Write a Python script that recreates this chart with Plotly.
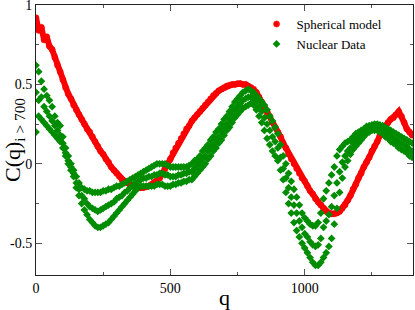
import plotly.graph_objects as go

q = list(range(0, 1401, 10))

spherical = [
    0.92, 0.84, 0.86, 0.78, 0.80, 0.74, 0.72, 0.67, 0.62, 0.58,
    0.53, 0.48, 0.44, 0.41, 0.37, 0.34, 0.31, 0.28, 0.25, 0.22,
    0.20, 0.17, 0.14, 0.11, 0.08, 0.06, 0.03, 0.01, -0.02, -0.04,
    -0.06, -0.08, -0.10, -0.11, -0.12, -0.13, -0.14, -0.145, -0.15, -0.15,
    -0.15, -0.145, -0.14, -0.13, -0.12, -0.11, -0.09, -0.06, -0.03, 0.00,
    0.03, 0.07, 0.10, 0.13, 0.16, 0.19, 0.22, 0.24, 0.27, 0.29,
    0.31, 0.33, 0.35, 0.37, 0.39, 0.41, 0.43, 0.445, 0.46, 0.47,
    0.48, 0.49, 0.495, 0.50, 0.50, 0.505, 0.505, 0.50, 0.50, 0.49,
    0.48, 0.47, 0.45, 0.42, 0.39, 0.36, 0.33, 0.30, 0.26, 0.23,
    0.20, 0.17, 0.13, 0.10, 0.06, 0.03, 0.00, -0.03, -0.06, -0.09,
    -0.11, -0.14, -0.17, -0.19, -0.22, -0.24, -0.26, -0.28, -0.30, -0.31,
    -0.315, -0.315, -0.31, -0.30, -0.28, -0.26, -0.23, -0.20, -0.16, -0.13,
    -0.09, -0.06, -0.02, 0.01, 0.04, 0.08, 0.11, 0.14, 0.18, 0.21,
    0.24, 0.26, 0.28, 0.29, 0.31, 0.33, 0.30, 0.26, 0.22, 0.20,
    0.18,
]

nuclear_hi = [
    0.62, 0.58, 0.52, 0.47, 0.43, 0.40, 0.36, 0.30, 0.26, 0.24,
    0.17, 0.10, 0.05, 0.00, -0.04, -0.08, -0.12, -0.15, -0.16, -0.17,
    -0.17, -0.18, -0.18, -0.18, -0.18, -0.17, -0.17, -0.16, -0.16, -0.15,
    -0.14, -0.14, -0.13, -0.12, -0.11, -0.10, -0.09, -0.08, -0.07, -0.06,
    -0.05, -0.04, -0.03, -0.02, -0.01, 0.00, 0.00, 0.00, 0.00, -0.01,
    -0.02, -0.02, -0.02, -0.02, -0.02, -0.02, -0.02, -0.01, 0.00, 0.02,
    0.03, 0.05, 0.08, 0.10, 0.12, 0.15, 0.17, 0.20, 0.22, 0.25,
    0.28, 0.30, 0.33, 0.36, 0.39, 0.41, 0.43, 0.45, 0.46, 0.47,
    0.46, 0.45, 0.43, 0.41, 0.39, 0.37, 0.34, 0.30, 0.27, 0.23,
    0.19, 0.12, 0.05, 0.00, -0.06, -0.11, -0.16, -0.21, -0.26, -0.31,
    -0.34, -0.36, -0.38, -0.39, -0.39, -0.37, -0.31, -0.22, -0.17, -0.12,
    -0.07, -0.02, 0.05, 0.09, 0.11, 0.13, 0.14, 0.15, 0.17, 0.19,
    0.20, 0.21, 0.22, 0.235, 0.24, 0.245, 0.25, 0.25, 0.245, 0.24,
    0.23, 0.22, 0.21, 0.20, 0.19, 0.18, 0.17, 0.16, 0.15, 0.14,
    0.13,
]

nuclear_mid = [
    0.45, 0.40, 0.42, 0.36, 0.33, 0.30, 0.27, 0.24, 0.21, 0.18,
    0.13, 0.07, 0.02, -0.02, -0.06, -0.12, -0.16, -0.20, -0.22, -0.25,
    -0.27, -0.28, -0.29, -0.30, -0.29, -0.28, -0.27, -0.26, -0.25, -0.24,
    -0.22, -0.21, -0.20, -0.18, -0.17, -0.15, -0.14, -0.12, -0.11, -0.10,
    -0.09, -0.09, -0.08, -0.08, -0.07, -0.07, -0.06, -0.06, -0.07, -0.07,
    -0.08, -0.08, -0.08, -0.07, -0.07, -0.06, -0.06, -0.05, -0.05, -0.03,
    -0.01, 0.01, 0.03, 0.05, 0.08, 0.10, 0.12, 0.15, 0.17, 0.20,
    0.23, 0.25, 0.28, 0.31, 0.34, 0.36, 0.38, 0.40, 0.41, 0.42,
    0.42, 0.41, 0.39, 0.36, 0.33, 0.29, 0.25, 0.21, 0.17, 0.14,
    0.10, 0.04, -0.03, -0.09, -0.15, -0.21, -0.26, -0.31, -0.36, -0.40,
    -0.44, -0.46, -0.49, -0.51, -0.52, -0.51, -0.47, -0.40, -0.36, -0.32,
    -0.27, -0.20, -0.12, -0.05, 0.01, 0.05, 0.08, 0.10, 0.13, 0.15,
    0.17, 0.18, 0.20, 0.21, 0.22, 0.23, 0.23, 0.23, 0.22, 0.21,
    0.20, 0.19, 0.18, 0.16, 0.15, 0.14, 0.13, 0.12, 0.11, 0.09,
    0.08,
]

nuclear_lo = [
    0.20, 0.30, 0.28, 0.26, 0.24, 0.22, 0.20, 0.18, 0.16, 0.14,
    0.10, 0.05, 0.00, -0.04, -0.08, -0.15, -0.20, -0.25, -0.29, -0.32,
    -0.35, -0.37, -0.39, -0.40, -0.40, -0.39, -0.38, -0.37, -0.35, -0.33,
    -0.31, -0.29, -0.27, -0.25, -0.23, -0.21, -0.19, -0.17, -0.15, -0.14,
    -0.14, -0.14, -0.14, -0.14, -0.14, -0.13, -0.13, -0.13, -0.14, -0.14,
    -0.14, -0.13, -0.13, -0.12, -0.12, -0.11, -0.11, -0.10, -0.10, -0.08,
    -0.06, -0.04, -0.02, 0.00, 0.03, 0.05, 0.08, 0.10, 0.13, 0.15,
    0.18, 0.21, 0.23, 0.26, 0.29, 0.31, 0.33, 0.35, 0.36, 0.37,
    0.38, 0.37, 0.34, 0.30, 0.26, 0.21, 0.16, 0.12, 0.08, 0.05,
    0.02, -0.04, -0.10, -0.18, -0.25, -0.31, -0.37, -0.42, -0.46, -0.50,
    -0.53, -0.56, -0.59, -0.62, -0.64, -0.64, -0.62, -0.59, -0.56, -0.52,
    -0.47, -0.38, -0.28, -0.18, -0.09, -0.02, 0.02, 0.06, 0.09, 0.11,
    0.13, 0.15, 0.17, 0.19, 0.20, 0.21, 0.21, 0.21, 0.20, 0.19,
    0.17, 0.16, 0.14, 0.13, 0.12, 0.10, 0.09, 0.08, 0.07, 0.05,
    0.04,
]

x_ticks = [0, 500, 1000]
y_ticks = [-0.5, 0, 0.5, 1]
y_tick_text = ["-0.5", "0", "0.5", "1"]

serif = "Liberation Serif, Times New Roman, serif"
red = "rgb(255,0,0)"
green = "rgb(0,140,0)"

fig = go.Figure()
fig.add_trace(go.Scatter(
    x=q, y=spherical, mode="lines", name="Spherical model",
    line=dict(color=red, width=6), showlegend=False, legendgroup="sph",
    hoverinfo="skip",
))
fig.add_trace(go.Scatter(
    x=q, y=spherical, mode="markers", name="Spherical model", legendgroup="sph",
    marker=dict(symbol="circle", size=6, color=red,
                line=dict(width=0.5, color="rgb(230,0,0)")),
))
fig.add_trace(go.Scatter(
    x=q + q + q, y=nuclear_hi + nuclear_mid + nuclear_lo,
    mode="markers", name="Nuclear Data",
    marker=dict(symbol="diamond", size=6, color=green),
))

axis_common = dict(
    showline=True, linecolor="#222", linewidth=1, mirror="ticks",
    ticks="inside", ticklen=6, tickcolor="#555", tickwidth=1,
    showgrid=False, zeroline=False, automargin=False,
    ticklabeloverflow="allow",
    tickfont=dict(family=serif, size=14, color="black"),
    minor=dict(ticks="inside", ticklen=3, tickcolor="#555"),
)

fig.update_xaxes(
    range=[0, 1403], tickvals=x_ticks, **axis_common,
    title=dict(text="q", font=dict(family=serif, size=22, color="black"), standoff=0),
)
fig.update_xaxes(minor=dict(dtick=250, tick0=0))
fig.update_yaxes(
    range=[-0.7, 1.0], tickvals=y_ticks, ticktext=y_tick_text, **axis_common,
    title=dict(text="C(q)<sub>i > 700</sub>", font=dict(family=serif, size=22, color="black"), standoff=0),
)
fig.update_yaxes(minor=dict(dtick=0.25, tick0=0))

fig.update_layout(
    width=415, height=310,
    margin=dict(l=36, r=2, t=5, b=35),
    plot_bgcolor="white", paper_bgcolor="white",
    showlegend=True,
    legend=dict(x=0.585, y=0.985, xanchor="left", yanchor="top",
                bgcolor="rgba(0,0,0,0)", borderwidth=0,
                font=dict(family=serif, size=13, color="black"),
                itemwidth=30, tracegroupgap=0),
)

fig.write_html(
    "out.html",
    config={"displayModeBar": False},
    post_script="document.body.style.margin='0px';document.body.style.padding='0px';",
)
